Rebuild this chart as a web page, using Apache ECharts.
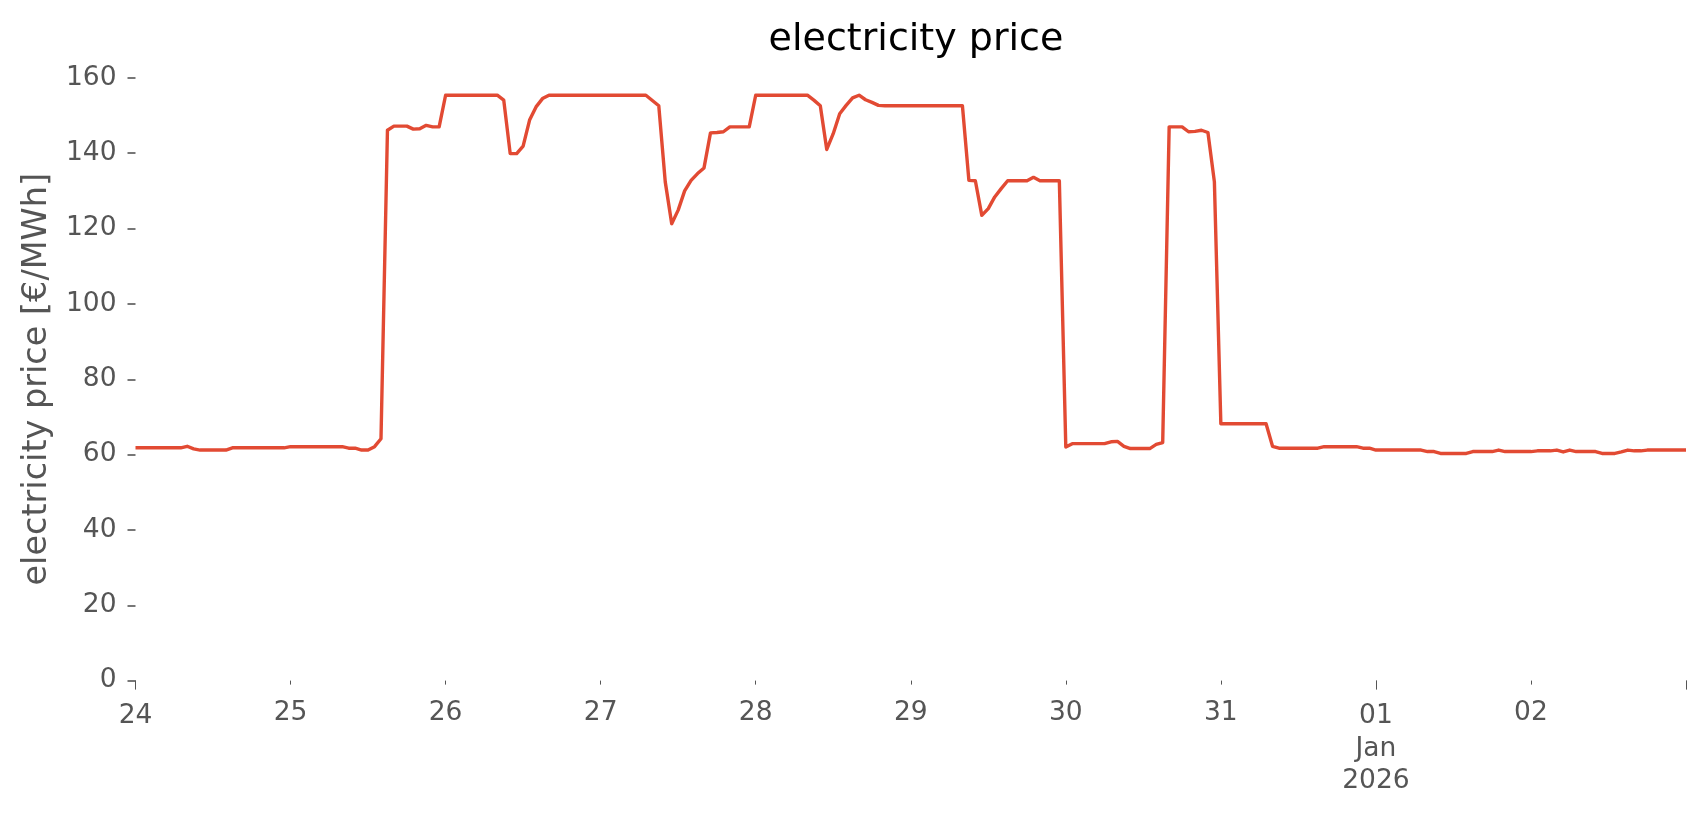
<!DOCTYPE html>
<html>
<head>
<meta charset="utf-8">
<script src="https://cdn.jsdelivr.net/npm/echarts@6/dist/echarts.min.js"></script>
<style>
html,body{margin:0;padding:0;background:#fff;}
#chart{width:1706px;height:815px;}
</style>
</head>
<body>
<div id="chart"></div>
<script>
// hourly series starting 2025-12-24 00:00 (hour offset = index)
const startTime = '2025-12-24 00:00';
const prices = [
  // Dec 24
  61.8,61.8,61.8,61.8,61.8,61.8,61.8,61.8,62.2,61.5,61.2,61.2,61.2,61.2,61.2,61.8,61.8,61.8,61.8,61.8,61.8,61.8,61.8,61.8,
  // Dec 25
  62.1,62.1,62.1,62.1,62.1,62.1,62.1,62.1,62.1,61.7,61.7,61.2,61.2,62.1,64.2,146.1,147.2,147.2,147.2,146.4,146.5,147.4,147.0,147.0,
  // Dec 26
  155.4,155.4,155.4,155.4,155.4,155.4,155.4,155.4,155.4,154.1,139.9,139.9,141.9,148.8,152.3,154.5,155.4,155.4,155.4,155.4,155.4,155.4,155.4,155.4,
  // Dec 27
  155.4,155.4,155.4,155.4,155.4,155.4,155.4,155.4,154.0,152.6,132.4,121.3,124.9,130.0,132.8,134.6,136.1,145.4,145.5,145.7,147.0,147.0,147.0,147.0,
  // Dec 28
  155.4,155.4,155.4,155.4,155.4,155.4,155.4,155.4,155.4,154.1,152.6,141.0,145.2,150.5,152.7,154.7,155.4,154.2,153.5,152.7,152.6,152.6,152.6,152.6,
  // Dec 29
  152.6,152.6,152.6,152.6,152.6,152.6,152.6,152.6,152.6,132.8,132.7,123.5,125.3,128.4,130.6,132.7,132.7,132.7,132.7,133.6,132.7,132.7,132.7,132.7,
  // Dec 30
  62.0,62.9,62.9,62.9,62.9,62.9,62.9,63.4,63.5,62.2,61.6,61.6,61.6,61.6,62.7,63.2,147.0,147.0,147.0,145.7,145.8,146.1,145.5,132.4,
  // Dec 31
  68.2,68.2,68.2,68.2,68.2,68.2,68.2,68.2,62.2,61.7,61.7,61.7,61.7,61.7,61.7,61.7,62.1,62.1,62.1,62.1,62.1,62.1,61.7,61.7,
  // Jan 01
  61.2,61.2,61.2,61.2,61.2,61.2,61.2,61.2,60.8,60.8,60.3,60.3,60.3,60.3,60.3,60.8,60.8,60.8,60.8,61.2,60.8,60.8,60.8,60.8,
  // Jan 02
  60.8,61.0,61.0,61.0,61.2,60.7,61.2,60.8,60.8,60.8,60.8,60.3,60.3,60.3,60.7,61.2,61.0,61.0,61.2,61.2,61.2,61.2,61.2,61.2,
  // Jan 03 00:00
  61.2
];
const dayTickLabels = ['24','25','26','27','28','29','30','31','01','02',''];
const majorTickLabels = {0:'24', 192:'01', 240:''};
const monthYearLabel = {192:'Jan\n2026'};
const yTicks = [0,20,40,60,80,100,120,140,160];

const seriesData = prices.map((v, i) => [i, v]);
const dayTickValues = dayTickLabels.map((_, i) => i * 24);
const majorValues = Object.keys(majorTickLabels).map(Number);
const monthValues = Object.keys(monthYearLabel).map(Number);
const minorLabelValues = dayTickValues.filter(v => majorValues.indexOf(v) < 0);

const FONT = 'DejaVu Sans';
const GRAY = '#555555';
const baseX = {
  type: 'value', min: 0, max: 240, position: 'bottom',
  axisLine: {show: false}, splitLine: {show: false}
};
const chart = echarts.init(document.getElementById('chart'), null, {renderer: 'canvas'});
chart.setOption({
  animation: false,
  backgroundColor: '#ffffff',
  title: {
    text: 'electricity price',
    left: 911, top: 16, textAlign: 'center',
    textStyle: {fontFamily: FONT, fontSize: 38, fontWeight: 'normal', color: '#000000'}
  },
  grid: {left: 135.5, right: 20, top: 77.9, bottom: 134.4, containLabel: false},
  xAxis: [Object.assign({}, baseX, {
    interval: 24,
    axisTick: {show: true, length: 4, customValues: dayTickValues, lineStyle: {color: GRAY, width: 1}},
    axisLabel: {
      show: true, customValues: minorLabelValues, margin: 19,
      fontFamily: FONT, fontSize: 26.5, color: GRAY,
      formatter: v => dayTickLabels[Math.round(v / 24)]
    }
  }), Object.assign({}, baseX, {
    axisTick: {show: true, length: 9, customValues: majorValues, lineStyle: {color: GRAY, width: 1}},
    axisLabel: {
      show: true, customValues: majorValues, margin: 22,
      fontFamily: FONT, fontSize: 26.5, color: GRAY,
      formatter: v => majorTickLabels[Math.round(v)]
    }
  }), Object.assign({}, baseX, {
    axisTick: {show: false},
    axisLabel: {
      show: true, customValues: monthValues, margin: 53,
      fontFamily: FONT, fontSize: 26.5, color: GRAY, lineHeight: 32,
      formatter: v => monthYearLabel[Math.round(v)]
    }
  })],
  yAxis: {
    type: 'value', min: 0, max: 160, interval: 20,
    name: 'electricity price [€/MWh]', nameLocation: 'middle', nameGap: 81,
    nameTextStyle: {fontFamily: FONT, fontSize: 33.5, color: GRAY},
    axisLine: {show: false},
    splitLine: {show: false},
    axisTick: {show: true, length: 8, lineStyle: {color: GRAY, width: 1.6}},
    axisLabel: {
      margin: 19, fontFamily: FONT, fontSize: 26.5, color: GRAY,
      formatter: v => (yTicks.indexOf(v) >= 0 ? String(v) : '')
    }
  },
  series: [{
    type: 'line', xAxisIndex: 0, data: seriesData, showSymbol: false,
    lineStyle: {color: '#E24A33', width: 3.4, cap: 'butt', join: 'round'},
    itemStyle: {color: '#E24A33'}
  }]
});
</script>
</body>
</html>
